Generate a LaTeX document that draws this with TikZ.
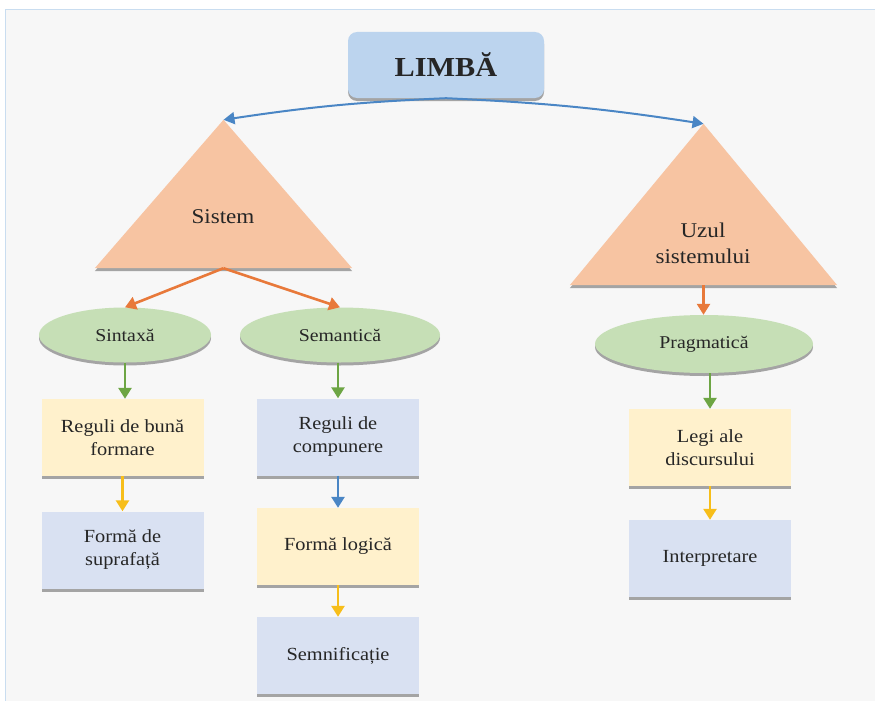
\documentclass[tikz,border=0pt]{standalone}
\usepackage{fontspec}
\setmainfont{Liberation Serif}[FakeStretch=1.1]
\usetikzlibrary{shapes.geometric,shadows,arrows.meta}

\definecolor{panel}{HTML}{F7F7F7}
\definecolor{frameline}{HTML}{C9DDF0}
\definecolor{ink}{HTML}{262626}
\definecolor{topfill}{HTML}{BCD4EE}
\definecolor{trifill}{HTML}{F7C4A2}
\definecolor{ellfill}{HTML}{C6DFB6}
\definecolor{yelfill}{HTML}{FFF1CC}
\definecolor{bluefill}{HTML}{D9E1F2}
\definecolor{arrblue}{HTML}{4A86C5}
\definecolor{arrorange}{HTML}{E8793A}
\definecolor{arrgreen}{HTML}{6DA544}
\definecolor{arryellow}{HTML}{F7BE1A}

\tikzset{
  shade/.style={drop shadow={shadow xshift=0pt, shadow yshift=-3pt, opacity=0.45, fill=black!75}},
  box/.style={rectangle, minimum width=162pt, minimum height=77pt, align=center,
    text=ink, font=\fontsize{18.5}{23}\selectfont, shade},
  yelbox/.style={box, fill=yelfill},
  bluebox/.style={box, fill=bluefill},
  oval/.style={ellipse, fill=ellfill, minimum height=55pt, text=ink,
    font=\fontsize{18}{21}\selectfont, shade},
  trilabel/.style={align=center, text=ink, font=\fontsize{21}{26}\selectfont},
  tribox/.style={rectangle, inner sep=0pt},
  arr/.style={line width=2.6pt, -{Triangle[length=11pt,width=13pt]}},
}

\begin{document}
\begin{tikzpicture}[x=1pt,y=-1pt]
  % page and panel
  \useasboundingbox (0,0) rectangle (875,701);
  \fill[white] (0,0) rectangle (875,701);
  \fill[panel] (5,10) rectangle (875,701);
  \draw[frameline, line width=1pt] (5,701) -- (5,10) -- (875,10);

  % title
  \node[rectangle, rounded corners=9pt, fill=topfill, minimum width=196pt,
        minimum height=66pt, text=ink, font=\fontsize{27.5}{30}\selectfont\bfseries, shade]
        (limba) at (446,65) {LIMBĂ};

  % the two triangles (frames that carry the anchors)
  \node[tribox, minimum width=257pt, minimum height=148pt] (sys) at (223.5,194) {};
  \node[tribox, minimum width=267pt, minimum height=161pt] (use) at (703.5,204.5) {};
  \fill[trifill, shade] (sys.north) -- (sys.south east) -- (sys.south west) -- cycle;
  \fill[trifill, shade] (use.north) -- (use.south east) -- (use.south west) -- cycle;
  \node[trilabel] (syslbl) at (223,217) {Sistem};
  \node[trilabel] (uselbl) at (703,243) {Uzul\\sistemului};

  % ellipses
  \node[oval, minimum width=172pt] (sint) at (125,335) {Sintaxă};
  \node[oval, minimum width=200pt] (semt) at (340,335) {Semantică};
  \node[oval, minimum width=218pt, minimum height=58pt] (prag) at (704,344) {Pragmatică};

  % boxes
  \node[yelbox]  (rbf) at (122.5,437.5) {Reguli de bună\\formare};
  \node[bluebox] (fds) at (122.5,550)   {Formă de\\suprafață};
  \node[bluebox] (rdc) at (338,437)     {Reguli de\\compunere};
  \node[yelbox]  (fl)  at (338,546.5)   {Formă logică};
  \node[bluebox] (sem) at (338,655.5)   {Semnificație};
  \node[yelbox]  (ld)  at (710,447.5)   {Legi ale\\discursului};
  \node[bluebox] (int) at (710,558.5)   {Interpretare};

  % title connectors
  \draw[arrblue, line width=2pt, -{Triangle[length=11pt,width=12pt]}]
        (limba.south) to[bend right=3] (sys.north);
  \draw[arrblue, line width=2pt, -{Triangle[length=11pt,width=12pt]}]
        (limba.south) to[bend left=3] (use.north);

  % triangle connectors
  \draw[arr, arrorange] (sys.south) -- (sint.north);
  \draw[arr, arrorange] (sys.south) -- (semt.north);
  \draw[arr, arrorange] (use.south) -- (use.south |- prag.north);

  % ellipse connectors
  \draw[arr, arrgreen] (sint.south) -- (sint.south |- rbf.north);
  \draw[arr, arrgreen] (semt.south -| rdc.north) -- (rdc.north);
  \draw[arr, arrgreen] (prag.south -| ld.north) -- (ld.north);

  % box connectors
  \draw[arr, arryellow] (rbf.south) -- (fds.north);
  \draw[arr, arrblue]   (rdc.south) -- (fl.north);
  \draw[arr, arryellow] (fl.south)  -- (sem.north);
  \draw[arr, arryellow] (ld.south)  -- (int.north);
\end{tikzpicture}
\end{document}
